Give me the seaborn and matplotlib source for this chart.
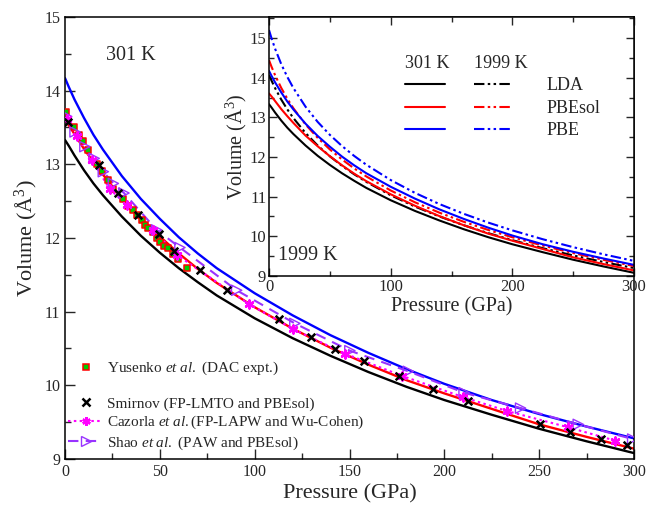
import numpy as np
import pandas as pd
import matplotlib
matplotlib.use("Agg")
import matplotlib.pyplot as plt
from matplotlib.lines import Line2D
from matplotlib.ticker import MultipleLocator
import seaborn as sns

# ---------------- data ----------------
pressure = [0, 2, 5, 10, 15, 20, 30, 40, 50, 60, 70, 80, 100, 120, 140, 160,
            180, 200, 225, 250, 275, 300]
lda_301 = [13.33, 13.25, 13.12, 12.92, 12.74, 12.58, 12.29, 12.03, 11.80, 11.59, 11.40,
           11.22, 10.91, 10.64, 10.40, 10.18, 9.98, 9.80, 9.60, 9.41, 9.24, 9.08]
pbesol_301 = [13.60, 13.53, 13.41, 13.21, 13.03, 12.86, 12.54, 12.27, 12.02, 11.79, 11.58,
              11.39, 11.06, 10.77, 10.51, 10.28, 10.07, 9.89, 9.68, 9.47, 9.30, 9.14]
pbe_301 = [14.17, 14.05, 13.88, 13.63, 13.40, 13.20, 12.84, 12.53, 12.26, 12.01, 11.79,
           11.59, 11.25, 10.95, 10.68, 10.44, 10.22, 10.02, 9.80, 9.61, 9.44, 9.28]
lda_1999 = [14.070, 13.929, 13.735, 13.450, 13.202, 12.982, 12.605, 12.289, 12.017,
            11.778, 11.564, 11.372, 11.036, 10.750, 10.501, 10.280, 10.082, 9.903,
            9.701, 9.518, 9.352, 9.200]
pbesol_1999 = [14.440, 14.280, 14.061, 13.744, 13.471, 13.230, 12.821, 12.482, 12.191,
               11.937, 11.712, 11.509, 11.156, 10.857, 10.597, 10.367, 10.162, 9.976,
               9.767, 9.578, 9.407, 9.250]
pbe_1999 = [15.200, 14.998, 14.728, 14.344, 14.020, 13.739, 13.268, 12.884, 12.558,
            12.276, 12.027, 11.804, 11.419, 11.095, 10.814, 10.568, 10.348, 10.150,
            9.927, 9.727, 9.546, 9.380]

yusenko_p = [0.3, 4.7, 7.2, 9.3, 12.3, 17.0, 19.3, 22.5, 25.5, 30.4, 33.4, 35.7, 38.1,
             40.4, 42.2, 43.9, 46.2, 48.3, 50.1, 52.2, 54.5, 57.1, 59.4, 64.1]
yusenko_v = [13.71, 13.51, 13.40, 13.31, 13.19, 13.00, 12.91, 12.79, 12.67, 12.53, 12.43,
             12.38, 12.31, 12.24, 12.18, 12.13, 12.08, 12.00, 11.95, 11.89, 11.86, 11.78,
             11.72, 11.59]
smirnov_p = [1.8, 17.9, 28.1, 38.6, 49.7, 57.6, 71.2, 85.4, 112.8, 129.7, 142.3, 157.8,
             176.2, 194.2, 212.3, 250.4, 266.5, 282.4, 296.4]
smirnov_v = [13.58, 12.99, 12.61, 12.31, 12.05, 11.83, 11.57, 11.30, 10.90, 10.65, 10.49,
             10.33, 10.12, 9.95, 9.79, 9.48, 9.36, 9.27, 9.19]
cazorla_p = [0.9, 6.2, 14.1, 23.7, 32.5, 46.5, 58.9, 97.2, 120.4, 147.6, 177.5, 209.9,
             233.2, 265.3, 289.9]
cazorla_v = [13.62, 13.38, 13.06, 12.66, 12.45, 12.11, 11.77, 11.10, 10.76, 10.43, 10.13,
             9.84, 9.65, 9.43, 9.25]
shao_p = [0.9, 5.3, 10.5, 15.4, 20.2, 25.5, 31.1, 48.3, 60.6, 90.5, 121.2, 150.2, 181.0,
          210.4, 240.2, 270.6, 299.3]
shao_v = [13.65, 13.44, 13.24, 13.08, 12.90, 12.74, 12.61, 12.11, 11.87, 11.29, 10.84,
          10.47, 10.19, 9.90, 9.69, 9.47, 9.27]

functionals = ["LDA", "PBEsol", "PBE"]
colors = {"LDA": "black", "PBEsol": "#ff0000", "PBE": "#0000ff"}

# ---------------- style ----------------
sns.set_style("ticks")
plt.rcParams["font.family"] = ["Liberation Serif", "DejaVu Serif"]
plt.rcParams["mathtext.fontset"] = "custom"
plt.rcParams["mathtext.rm"] = "Liberation Serif"
plt.rcParams["mathtext.it"] = "Liberation Serif:italic"
plt.rcParams["axes.linewidth"] = 1.1
plt.rcParams["axes.edgecolor"] = "black"

DASHDOTDOT = (0, (5, 1.6, 1.2, 1.6, 1.2, 1.6))
MAG = "#ff00ff"
VIO = "#9933ff"

fig = plt.figure(figsize=(6.56, 5.13), dpi=100)
ax = fig.add_axes([0.0991, 0.1053, 0.8674, 0.8616])

# main: 301 K curves
curves_301 = pd.DataFrame({"P": pressure * 3,
                           "V": lda_301 + pbesol_301 + pbe_301,
                           "f": sum([[f] * len(pressure) for f in functionals], [])})
for f in functionals:
    d = curves_301[curves_301.f == f]
    sns.lineplot(data=d, x="P", y="V", ax=ax, color=colors[f], lw=1.7, sort=False,
                 legend=False, zorder=2)

sns.lineplot(x=cazorla_p, y=cazorla_v, ax=ax, color=MAG, lw=1.5,
             linestyle=(0, (1.2, 1.6)), sort=False, legend=False, zorder=3)
sns.lineplot(x=shao_p, y=shao_v, ax=ax, color=VIO, lw=1.5,
             linestyle=(0, (5, 3.5)), sort=False, legend=False, zorder=3)
sns.scatterplot(x=yusenko_p, y=yusenko_v, ax=ax, marker="s", s=24, color="#00cc00",
                edgecolor="#ff0000", linewidth=1.1, zorder=4, legend=False)
sns.scatterplot(x=shao_p, y=shao_v, ax=ax, marker=">", s=55, facecolor="none",
                edgecolor=VIO, linewidth=1.0, zorder=5, legend=False)
sns.scatterplot(x=cazorla_p, y=cazorla_v, ax=ax, marker=(6, 2, 0), s=32,
                color=MAG, edgecolor=MAG, linewidth=1.8, zorder=5, legend=False)
sns.scatterplot(x=smirnov_p, y=smirnov_v, ax=ax, marker="x", s=30, color="black",
                linewidth=1.8, zorder=6, legend=False)

ax.set_xlim(0, 300)
ax.set_ylim(9, 15)
ax.xaxis.set_major_locator(MultipleLocator(50))
ax.xaxis.set_minor_locator(MultipleLocator(25))
ax.yaxis.set_major_locator(MultipleLocator(1))
ax.yaxis.set_minor_locator(MultipleLocator(0.5))
ax.tick_params(which="both", direction="in", labelsize=11.5, width=1.0)
ax.tick_params(which="major", length=7)
ax.tick_params(which="minor", length=4)
ax.set_xlabel("Pressure (GPa)", fontsize=16, labelpad=3)
ax.set_ylabel("Volume (Å$^3$)", fontsize=16, labelpad=3)
ax.text(0.072, 0.912, "301 K", transform=ax.transAxes, fontsize=14.5, va="center")

handles = [
    Line2D([], [], ls="none", marker="s", ms=4.5, mfc="#00cc00", mec="#ff0000", mew=1.1),
    Line2D([], [], ls="none", marker="none"),
    Line2D([], [], ls="none", marker="x", ms=5.5, color="black", mew=1.8),
    Line2D([], [], ls=(0, (1.2, 1.6)), lw=1.5, color=MAG, marker=(6, 2, 0), ms=6,
           mew=1.8, mec=MAG),
    Line2D([], [], ls=(0, (5, 3.5)), lw=1.5, color=VIO, marker=">", ms=7,
           mfc="none", mec=VIO, mew=1.0),
]
labels = ["Yusenko $et\\ al.$ (DAC expt.)", " ", "Smirnov (FP-LMTO and PBEsol)",
          "Cazorla $et\\ al.$(FP-LAPW and Wu-Cohen)", "Shao $et\\ al.$ (PAW and PBEsol)"]
ax.legend(handles, labels, loc="lower left", bbox_to_anchor=(0.0, 0.01),
          frameon=False, fontsize=11, handlelength=2.3, handletextpad=0.25,
          labelspacing=0.2, borderpad=0.2, borderaxespad=0.0)

# ---------------- inset ----------------
ax_in = fig.add_axes([0.4101, 0.4620, 0.5564, 0.5049])
ax_in.set_facecolor("white")
curves_1999 = {"LDA": lda_1999, "PBEsol": pbesol_1999, "PBE": pbe_1999}
curves_301d = {"LDA": lda_301, "PBEsol": pbesol_301, "PBE": pbe_301}
for f in functionals:
    sns.lineplot(x=pressure, y=curves_301d[f], ax=ax_in, color=colors[f], lw=1.5,
                 sort=False, legend=False)
    sns.lineplot(x=pressure, y=curves_1999[f], ax=ax_in, color=colors[f], lw=1.5,
                 linestyle=DASHDOTDOT, sort=False, legend=False)

ax_in.set_xlim(0, 300)
ax_in.set_ylim(9, 15.53)
ax_in.xaxis.set_major_locator(MultipleLocator(100))
ax_in.xaxis.set_minor_locator(MultipleLocator(50))
ax_in.yaxis.set_major_locator(MultipleLocator(1))
ax_in.yaxis.set_minor_locator(MultipleLocator(0.5))
ax_in.tick_params(which="both", direction="in", labelsize=12, width=1.0,
                  top=True, right=True, pad=2)
ax_in.tick_params(which="major", length=6)
ax_in.tick_params(which="minor", length=3.5)
ax_in.set_xlabel("Pressure (GPa)", fontsize=14.5, labelpad=2)
ax_in.set_ylabel("Volume (Å$^3$)", fontsize=14.5, labelpad=0)
ax_in.text(0.025, 0.08, "1999 K", transform=ax_in.transAxes, fontsize=14.5, va="center")

solid_h = [Line2D([], [], color=colors[f], lw=1.5) for f in functionals]
dd_h = [Line2D([], [], color=colors[f], lw=1.5, ls=DASHDOTDOT) for f in functionals]
leg1 = ax_in.legend(solid_h, [" ", " ", " "], title="301 K", title_fontsize=13,
                    fontsize=13, loc="upper left", bbox_to_anchor=(0.372, 0.853),
                    frameon=False, handlelength=2.2, handletextpad=0.2,
                    labelspacing=0.3, borderpad=0, borderaxespad=0, alignment="left")
ax_in.add_artist(leg1)
ax_in.legend(dd_h, functionals, title="1999 K", title_fontsize=13, fontsize=13,
             loc="upper left", bbox_to_anchor=(0.562, 0.853), frameon=False,
             handlelength=2.1, handletextpad=1.9, labelspacing=0.3, borderpad=0,
             borderaxespad=0, alignment="left")

fig.savefig("out.png", dpi=100)
